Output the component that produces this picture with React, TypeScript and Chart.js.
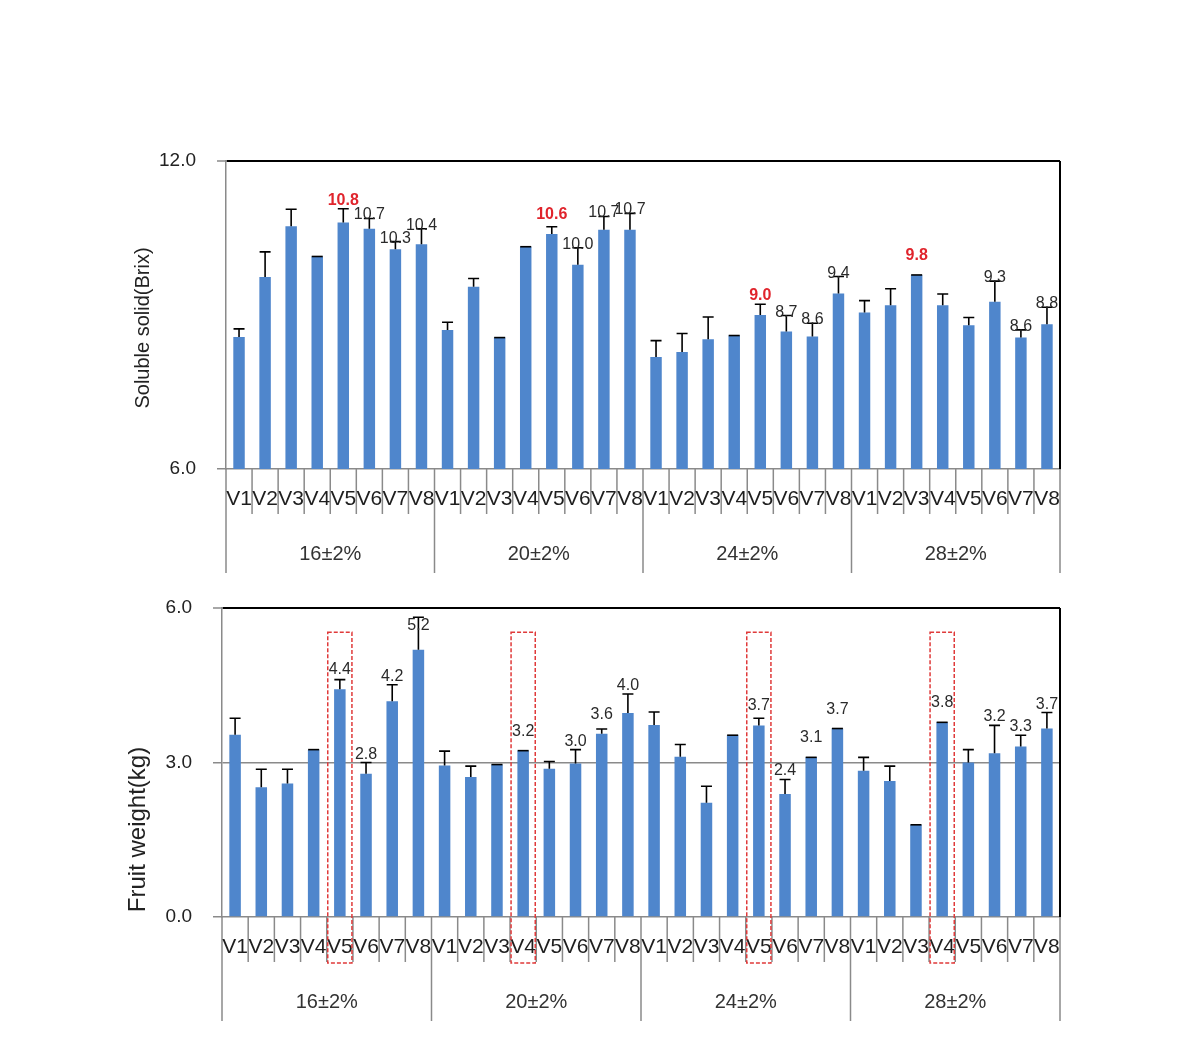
import React, { useEffect, useRef } from 'react';
import { Chart, registerables } from 'chart.js';

Chart.register(...registerables);

// ---------- data ----------
const varieties = ['V1', 'V2', 'V3', 'V4', 'V5', 'V6', 'V7', 'V8'];
const groups = ['16±2%', '20±2%', '24±2%', '28±2%'];
const categories = groups.flatMap(() => varieties);

// Soluble solid (Brix)
const brixValues = [
  8.57, 9.74, 10.73, 10.14, 10.8, 10.68, 10.28, 10.38,
  8.71, 9.55, 8.56, 10.33, 10.58, 9.98, 10.66, 10.66,
  8.18, 8.28, 8.53, 8.6, 9.0, 8.68, 8.58, 9.42,
  9.05, 9.19, 9.78, 9.19, 8.8, 9.26, 8.56, 8.82,
];
const brixErrors = [
  0.16, 0.49, 0.33, 0.0, 0.27, 0.2, 0.15, 0.3,
  0.15, 0.16, 0.0, 0.0, 0.14, 0.33, 0.26, 0.32,
  0.32, 0.36, 0.43, 0.0, 0.21, 0.31, 0.26, 0.33,
  0.23, 0.32, 0.0, 0.22, 0.15, 0.4, 0.15, 0.33,
];
const brixLabelIdx = [4, 5, 6, 7, 12, 13, 14, 15, 20, 21, 22, 23, 26, 29, 30, 31];
const brixRedIdx = [4, 12, 20, 26];
const brixTicks = [6, 12];

// Fruit weight (kg)
const weightValues = [
  3.54, 2.52, 2.59, 3.25, 4.42, 2.78, 4.19, 5.19,
  2.94, 2.72, 2.96, 3.23, 2.88, 2.98, 3.56, 3.96,
  3.73, 3.11, 2.22, 3.53, 3.72, 2.39, 3.1, 3.66,
  2.84, 2.64, 1.79, 3.78, 3.0, 3.18, 3.31, 3.66,
];
const weightErrors = [
  0.32, 0.35, 0.28, 0.0, 0.19, 0.22, 0.32, 0.63,
  0.28, 0.21, 0.0, 0.0, 0.14, 0.27, 0.09, 0.37,
  0.25, 0.24, 0.32, 0.0, 0.14, 0.28, 0.0, 0.0,
  0.26, 0.29, 0.0, 0.0, 0.25, 0.54, 0.22, 0.31,
];
const weightLabelIdx = [4, 5, 6, 7, 11, 13, 14, 15, 20, 21, 22, 23, 27, 29, 30, 31];
const weightHighlightIdx = [4, 11, 20, 27];
const weightTicks = [0, 3, 6];

// ---------- styling ----------
const BAR = '#4F86CC';
const AXIS_GRAY = '#8a8a8a';
const FONT = 'Arial, "Liberation Sans", sans-serif';

type Cfg = {
  values: number[];
  errors: number[];
  labelIdx: number[];
  redIdx: number[];
  highlightIdx: number[];
  ticks: number[];
  title: string;
  titleSize: number;
  titleDx: number;
  titleDy: number;
  labelAboveErr: boolean;
  boxTopValue: number;
  yLeft: number;
  padTop: number;
  xHeight: number;
  gridMid: boolean;
};

function makeOverlay(cfg: Cfg) {
  return {
    id: 'overlay',
    afterDatasetsDraw(chart: any) {
      const ctx = chart.ctx;
      const ys = chart.scales.y;
      const area = chart.chartArea;
      const meta = chart.getDatasetMeta(0);
      ctx.save();
      // error bars (plus direction)
      ctx.strokeStyle = '#000';
      ctx.lineWidth = 1.6;
      meta.data.forEach((el: any, i: number) => {
        const top = ys.getPixelForValue(cfg.values[i] + cfg.errors[i]);
        ctx.beginPath();
        ctx.moveTo(el.x, el.y);
        ctx.lineTo(el.x, top);
        ctx.moveTo(el.x - 5.5, top);
        ctx.lineTo(el.x + 5.5, top);
        ctx.stroke();
      });
      // data labels
      ctx.textAlign = 'center';
      ctx.textBaseline = 'alphabetic';
      cfg.labelIdx.forEach((i) => {
        const el = meta.data[i];
        const errTop = ys.getPixelForValue(cfg.values[i] + cfg.errors[i]);
        const red = cfg.redIdx.includes(i);
        let bottom: number;
        if (cfg.labelAboveErr && !red) bottom = errTop + 1;
        else bottom = Math.min(errTop, el.y - 11) - 4;
        bottom = Math.max(bottom, area.top + 22);
        ctx.font = (red ? 'bold ' : '') + '16px ' + FONT;
        ctx.fillStyle = red ? '#E0242C' : '#2a2a2a';
        ctx.fillText(cfg.values[i].toFixed(1), el.x, bottom);
      });
      ctx.restore();
    },
    afterDraw(chart: any) {
      const ctx = chart.ctx;
      const xs = chart.scales.x;
      const ys = chart.scales.y;
      const area = chart.chartArea;
      const n = categories.length;
      const w = xs.getPixelForValue(1) - xs.getPixelForValue(0);
      ctx.save();
      // right border
      ctx.strokeStyle = '#000';
      ctx.lineWidth = 2;
      ctx.beginPath();
      ctx.moveTo(area.right, area.top);
      ctx.lineTo(area.right, area.bottom);
      ctx.stroke();
      // category separators
      ctx.strokeStyle = AXIS_GRAY;
      ctx.lineWidth = 1.5;
      for (let i = 0; i <= n; i++) {
        const bx = i === n ? area.right : xs.getPixelForValue(i) - w / 2;
        const isGroup = i % varieties.length === 0;
        ctx.beginPath();
        ctx.moveTo(bx, area.bottom);
        ctx.lineTo(bx, area.bottom + (isGroup ? 104 : 45));
        ctx.stroke();
      }
      // category labels
      ctx.fillStyle = '#1e1e1e';
      ctx.font = '21px ' + FONT;
      ctx.textAlign = 'center';
      ctx.textBaseline = 'middle';
      categories.forEach((c, i) => {
        ctx.fillText(c, xs.getPixelForValue(i), area.bottom + 30);
      });
      // group labels
      ctx.fillStyle = '#333';
      ctx.font = '20px ' + FONT;
      groups.forEach((g, gi) => {
        const a = xs.getPixelForValue(gi * varieties.length) - w / 2;
        const b = xs.getPixelForValue((gi + 1) * varieties.length - 1) + w / 2;
        ctx.fillText(g, (a + b) / 2, area.bottom + 85);
      });
      // highlight boxes
      ctx.strokeStyle = '#E03A3A';
      ctx.lineWidth = 1.5;
      ctx.setLineDash([4, 2]);
      cfg.highlightIdx.forEach((i) => {
        const left = xs.getPixelForValue(i) - w / 2 + 1;
        const top = ys.getPixelForValue(cfg.boxTopValue);
        const bottom = area.bottom + 46;
        ctx.strokeRect(left, top, w - 2, bottom - top);
      });
      ctx.setLineDash([]);
      // y title
      ctx.fillStyle = '#222';
      ctx.font = cfg.titleSize + 'px ' + FONT;
      ctx.translate(area.left + cfg.titleDx, (area.top + area.bottom) / 2 + cfg.titleDy);
      ctx.rotate(-Math.PI / 2);
      ctx.textAlign = 'center';
      ctx.textBaseline = 'middle';
      ctx.fillText(cfg.title, 0, 0);
      ctx.restore();
    },
  };
}

function BarPanel({ cfg, top, height }: { cfg: Cfg; top: number; height: number }) {
  const ref = useRef<HTMLCanvasElement | null>(null);
  useEffect(() => {
    if (!ref.current) return;
    const min = cfg.ticks[0];
    const max = cfg.ticks[cfg.ticks.length - 1];
    const chart = new Chart(ref.current, {
      type: 'bar',
      data: {
        labels: categories,
        datasets: [
          {
            data: cfg.values,
            backgroundColor: BAR,
            borderWidth: 0,
            barPercentage: 0.44,
            categoryPercentage: 1,
          },
        ],
      },
      options: {
        responsive: false,
        animation: false,
        devicePixelRatio: 1,
        layout: { padding: { left: 0, right: 130, top: cfg.padTop, bottom: 0 } },
        plugins: { legend: { display: false }, tooltip: { enabled: false } },
        scales: {
          x: {
            type: 'category',
            offset: true,
            grid: { display: false },
            ticks: { display: false },
            border: { display: true, color: AXIS_GRAY, width: 1.5 },
            afterFit: (s: any) => {
              s.height = cfg.xHeight;
              s.paddingLeft = 0;
              s.paddingRight = 0;
            },
          },
          y: {
            min,
            max,
            afterBuildTicks: (s: any) => {
              s.ticks = cfg.ticks.map((v) => ({ value: v }));
            },
            afterFit: (s: any) => {
              s.width = cfg.yLeft;
              s.paddingTop = 0;
              s.paddingBottom = 0;
            },
            ticks: {
              callback: (v: any) => Number(v).toFixed(1),
              font: { size: 19, family: FONT },
              color: '#222',
              padding: 21,
            },
            grid: {
              drawOnChartArea: true,
              drawTicks: true,
              tickLength: 9,
              tickColor: AXIS_GRAY,
              tickWidth: 1.5,
              color: (c: any) => {
                const v = c.tick ? c.tick.value : null;
                if (v === max) return '#000';
                if (v === min) return 'rgba(0,0,0,0)';
                return cfg.gridMid ? '#8a8a8a' : 'rgba(0,0,0,0)';
              },
              lineWidth: (c: any) => (c.tick && c.tick.value === max ? 2 : 1.5),
            },
            border: { display: true, color: AXIS_GRAY, width: 1.5 },
          },
        },
      },
      plugins: [makeOverlay(cfg)],
    } as any);
    return () => chart.destroy();
  }, [cfg]);
  return (
    <canvas
      ref={ref}
      width={1190}
      height={height}
      style={{ position: 'absolute', left: 0, top, width: 1190, height }}
    />
  );
}

const brixCfg: Cfg = {
  values: brixValues,
  errors: brixErrors,
  labelIdx: brixLabelIdx,
  redIdx: brixRedIdx,
  highlightIdx: [],
  ticks: brixTicks,
  title: 'Soluble solid(Brix)',
  titleSize: 20,
  titleDx: -83,
  titleDy: 13,
  labelAboveErr: true,
  boxTopValue: 12,
  yLeft: 226,
  padTop: 41,
  xHeight: 121,
  gridMid: false,
};

const weightCfg: Cfg = {
  values: weightValues,
  errors: weightErrors,
  labelIdx: weightLabelIdx,
  redIdx: [],
  highlightIdx: weightHighlightIdx,
  ticks: weightTicks,
  title: 'Fruit weight(kg)',
  titleSize: 24,
  titleDx: -84,
  titleDy: 67,
  labelAboveErr: false,
  boxTopValue: 5.53,
  yLeft: 222,
  padTop: 18,
  xHeight: 133,
  gridMid: true,
};

export default function App() {
  return (
    <div style={{ position: 'absolute', left: 0, top: 0, width: 1190, height: 1057, background: '#fff' }}>
      <BarPanel cfg={brixCfg} top={120} height={470} />
      <BarPanel cfg={weightCfg} top={590} height={460} />
    </div>
  );
}
